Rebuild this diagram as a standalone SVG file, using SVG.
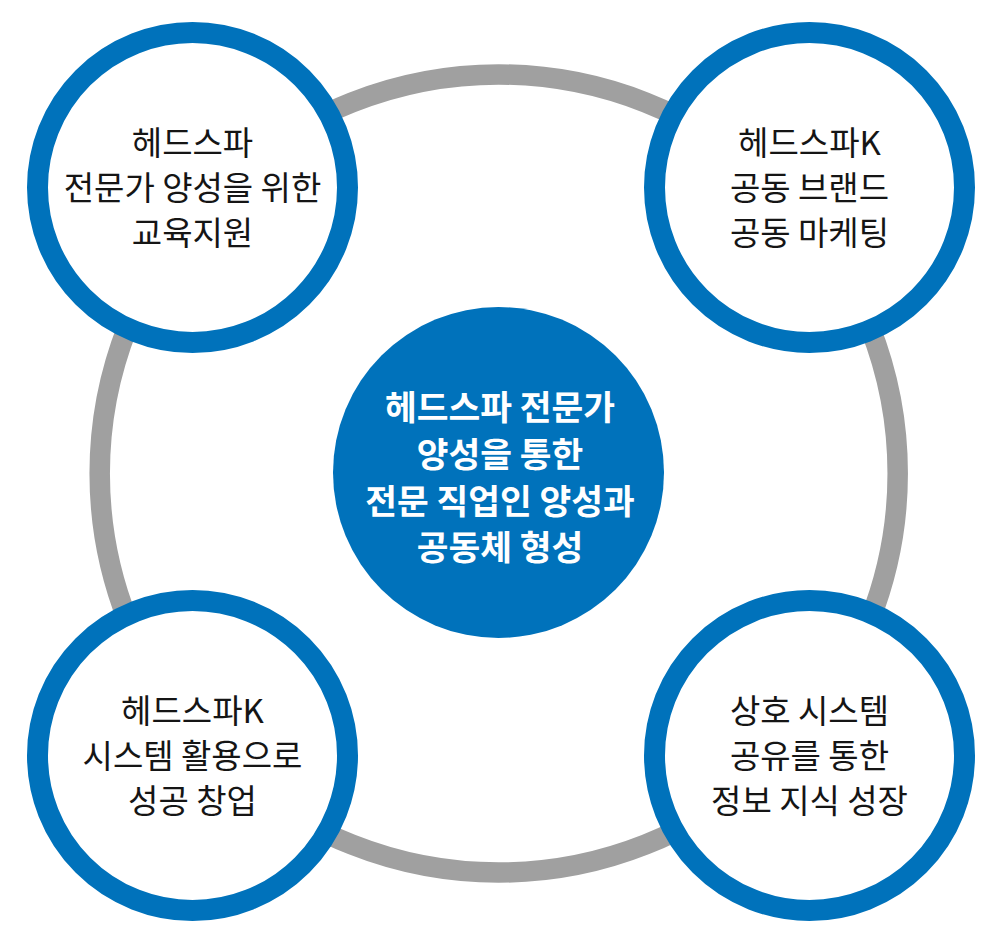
<svg xmlns="http://www.w3.org/2000/svg" width="998" height="940" viewBox="0 0 998 940">
<style>
.ring{fill:none;stroke:#a0a0a0;stroke-width:20.5}
.node{fill:#ffffff;stroke:#0072bb;stroke-width:21}
.core{fill:#0072bb}
.t{font-family:"Noto Sans CJK KR","Noto Sans",sans-serif;font-size:33px;fill:#151515;text-anchor:middle}
.tc{font-family:"Noto Sans CJK KR","Noto Sans",sans-serif;font-size:34.5px;font-weight:700;fill:#ffffff;text-anchor:middle}
</style>
<rect width="998" height="940" fill="#ffffff"/>
<g id="connectors">
<circle class="ring" cx="498.7" cy="473.5" r="399"/>
</g>
<g id="node-top-left">
<circle class="node" cx="192.5" cy="187.5" r="155"/>
<text class="t" x="192.5" y="155">헤드스파</text>
<text class="t" x="192.5" y="200">전문가 양성을 위한</text>
<text class="t" x="192.5" y="245">교육지원</text>
</g>
<g id="node-top-right">
<circle class="node" cx="809.5" cy="187.5" r="155"/>
<text class="t" x="809.5" y="155">헤드스파K</text>
<text class="t" x="809.5" y="200">공동 브랜드</text>
<text class="t" x="809.5" y="245">공동 마케팅</text>
</g>
<g id="node-bottom-left">
<circle class="node" cx="192.5" cy="755.5" r="155"/>
<text class="t" x="192.5" y="723">헤드스파K</text>
<text class="t" x="192.5" y="768">시스템 활용으로</text>
<text class="t" x="192.5" y="813">성공 창업</text>
</g>
<g id="node-bottom-right">
<circle class="node" cx="809.5" cy="755.5" r="155"/>
<text class="t" x="809.5" y="723">상호 시스템</text>
<text class="t" x="809.5" y="768">공유를 통한</text>
<text class="t" x="809.5" y="813">정보 지식 성장</text>
</g>
<g id="node-center">
<circle class="core" cx="498.5" cy="472.5" r="165.5"/>
<text class="tc" x="500" y="420">헤드스파 전문가</text>
<text class="tc" x="500" y="467">양성을 통한</text>
<text class="tc" x="500" y="514">전문 직업인 양성과</text>
<text class="tc" x="500" y="560">공동체 형성</text>
</g>
</svg>
